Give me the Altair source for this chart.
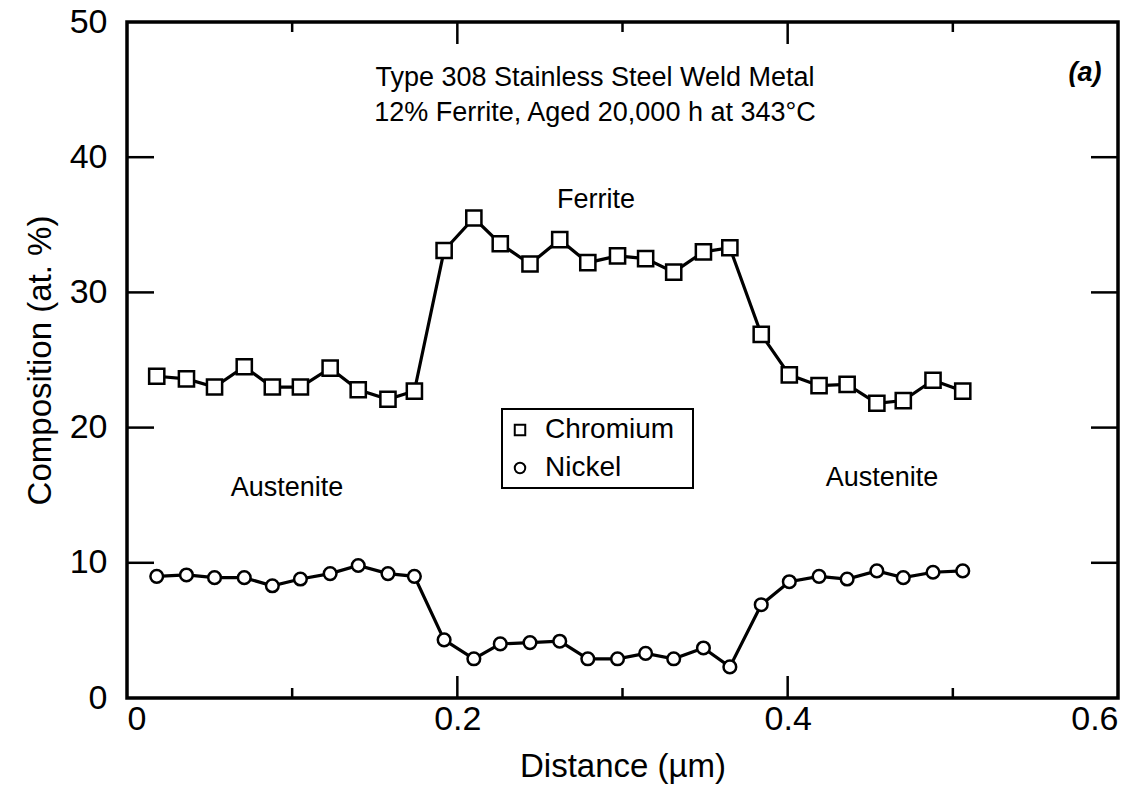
import altair as alt
import pandas as pd

# Measured line scan across the ferrite lath
x_um = [0.018, 0.036, 0.053, 0.071, 0.088, 0.105, 0.123, 0.140, 0.158, 0.174,
        0.192, 0.210, 0.226, 0.244, 0.262, 0.279, 0.297, 0.314, 0.331, 0.349,
        0.365, 0.384, 0.401, 0.419, 0.436, 0.454, 0.470, 0.488, 0.506]
chromium = [23.8, 23.6, 23.0, 24.5, 23.0, 23.0, 24.4, 22.8, 22.1, 22.7,
            33.1, 35.5, 33.6, 32.1, 33.9, 32.2, 32.7, 32.5, 31.5, 33.0,
            33.3, 26.9, 23.9, 23.1, 23.2, 21.8, 22.0, 23.5, 22.7]
nickel = [9.0, 9.1, 8.9, 8.9, 8.3, 8.8, 9.2, 9.8, 9.2, 9.0,
          4.3, 2.9, 4.0, 4.1, 4.2, 2.9, 2.9, 3.3, 2.9, 3.7,
          2.3, 6.9, 8.6, 9.0, 8.8, 9.4, 8.9, 9.3, 9.4]

elements = ["Chromium", "Nickel"]
symbols = ["square", "circle"]
symbol_sizes = [230, 160]
x_labels = [0, 0.2, 0.4, 0.6]
y_labels = [0, 10, 20, 30, 40, 50]
x_major_ticks = [0.2, 0.4]
x_minor_ticks = [0.1, 0.3, 0.5]
y_major_ticks = [10, 20, 30, 40]

FONT = "Liberation Sans"
W, H = 991, 676
TOP = 22

n = len(x_um)
df = pd.DataFrame({
    "distance": x_um * 2,
    "composition": chromium + nickel,
    "element": [elements[0]] * n + [elements[1]] * n,
})

xscale = alt.Scale(domain=[0, 0.6], nice=False, zero=False)
yscale = alt.Scale(domain=[0, 50], nice=False)

x_axis = alt.Axis(
    title="Distance (µm)", values=x_labels, format="~g",
    labelFontSize=34, labelPadding=4, titleFontSize=33, titlePadding=14,
    grid=False, domain=False, ticks=False, tickSize=0,
)
y_axis = alt.Axis(
    title="Composition (at. %)", values=y_labels, format="d",
    labelFontSize=34, labelPadding=20, titleFontSize=33, titlePadding=12,
    grid=False, domain=False, ticks=False, tickSize=0,
)


def X():
    return alt.X("distance:Q", scale=xscale, axis=x_axis)


def Y():
    return alt.Y("composition:Q", scale=yscale, axis=y_axis)


base = alt.Chart(df)

lines = base.mark_line(color="black", strokeWidth=3.2).encode(
    x=X(), y=Y(), detail="element:N",
)

# open markers, one layer per element
point_layers = [
    base.transform_filter(alt.datum.element == el).mark_point(
        shape=shp, size=sz, filled=True, fill="white", stroke="black",
        strokeWidth=2.5, opacity=1,
    ).encode(x=X(), y=Y())
    for el, shp, sz in zip(elements, symbols, symbol_sizes)
]


def x_ticks(values, length, top):
    d = pd.DataFrame({"distance": values})
    y0, y1 = (0, length) if top else (H, H - length)
    return alt.Chart(d).mark_rule(color="black", strokeWidth=2.5).encode(
        x=X(), y=alt.value(y0), y2=alt.value(y1),
    )


def y_ticks(values, length, right):
    d = pd.DataFrame({"composition": values})
    x0, x1 = (W, W - length) if right else (0, length)
    return alt.Chart(d).mark_rule(color="black", strokeWidth=2.5).encode(
        y=Y(), x=alt.value(x0), x2=alt.value(x1),
    )


ticks = [
    x_ticks(x_major_ticks, 22, False), x_ticks(x_minor_ticks, 10, False),
    x_ticks(x_major_ticks, 22, True), x_ticks(x_minor_ticks, 10, True),
    y_ticks(y_major_ticks, 27, False), y_ticks(y_major_ticks, 27, True),
]


def label(text, px, py, size=27, weight="normal", style="normal",
          align="center"):
    return alt.Chart(pd.DataFrame({"t": [text]})).mark_text(
        font=FONT, fontSize=size, fontWeight=weight, fontStyle=style,
        color="black", align=align, baseline="middle",
    ).encode(text="t:N", x=alt.value(px), y=alt.value(py - TOP))


# annotation positions given in page pixels (y), plot-relative x
notes = [
    label("Type 308 Stainless Steel Weld Metal", 468, 78),
    label("12% Ferrite, Aged 20,000 h at 343°C", 468, 113),
    label("(a)", 958, 73, weight="bold", style="italic"),
    label("Ferrite", 469, 200),
    label("Austenite", 160, 488),
    label("Austenite", 755, 478),
]

# key box in the middle of the plot
legend_box = alt.Chart(pd.DataFrame({"k": [0]})).mark_rect(
    fill="white", stroke="black", strokeWidth=2,
).encode(x=alt.value(375), x2=alt.value(566),
         y=alt.value(409 - TOP), y2=alt.value(488 - TOP))

legend_rows = []
for i, (el, shp) in enumerate(zip(elements, symbols)):
    row_y = 430 + 38 * i
    legend_rows.append(
        alt.Chart(pd.DataFrame({"k": [el]})).mark_point(
            shape=shp, size=110, filled=True, fill="white", stroke="black",
            strokeWidth=2, opacity=1,
        ).encode(x=alt.value(393), y=alt.value(row_y - TOP))
    )
    legend_rows.append(label(el, 418, row_y, size=28, align="left"))

chart = alt.layer(
    lines, *point_layers, *ticks, *notes, legend_box, *legend_rows
).properties(
    width=W, height=H,
    autosize=alt.AutoSizeParams(type="none"),
    padding={"left": 127, "top": TOP, "right": 30, "bottom": 800 - TOP - H},
    background="white",
).configure_view(
    stroke="black", strokeWidth=3.5,
).configure_axis(
    labelFont=FONT, titleFont=FONT, labelColor="black", titleColor="black",
    titleFontWeight="normal",
)

chart.save("out.html", embed_options={"renderer": "svg", "actions": False})
